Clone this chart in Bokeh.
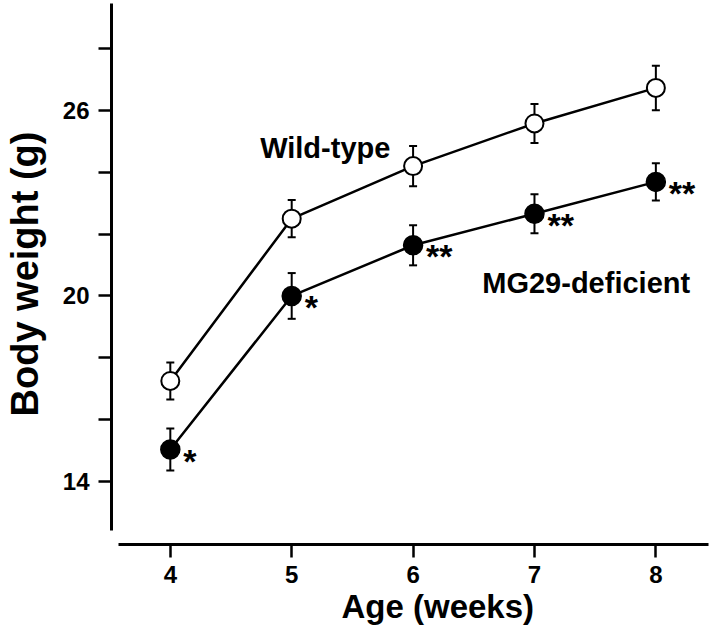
from bokeh.plotting import figure
from bokeh.models import Range1d, FixedTicker, ColumnDataSource, Title
from bokeh.core.properties import value
from bokeh.embed import file_html
from bokeh.resources import INLINE

# ---- data ----
weeks = [4, 5, 6, 7, 8]
wild_type = [17.25, 22.50, 24.20, 25.58, 26.73]
wild_err = [0.60, 0.60, 0.65, 0.63, 0.72]
mg29 = [15.03, 20.00, 21.64, 22.66, 23.69]
mg29_err = [0.68, 0.74, 0.65, 0.63, 0.60]
mg29_sig = ["*", "*", "**", "**", "**"]
y_ticks = [14, 16, 18, 20, 22, 24, 26, 28]
y_tick_labels = {14: "14", 20: "20", 26: "26"}
x_ticks = [4, 5, 6, 7, 8]
series_labels = ["Wild-type", "MG29-deficient"]
label_pos_x = [4.74, 6.57]
label_pos_y = [24.79, 20.42]

FONT = "Liberation Sans"

p = figure(width=712, height=632, output_backend="svg", toolbar_location=None,
           x_range=Range1d(3.5155, 8.4666), y_range=Range1d(11.96, 29.46),
           min_border_left=105, min_border_right=0, min_border_top=3,
           min_border_bottom=88)
p.outline_line_color = None
p.grid.visible = False
p.background_fill_color = "white"
p.border_fill_color = "white"

# axes
for ax in (p.xaxis[0], p.yaxis[0]):
    ax.axis_line_width = 3
    ax.major_tick_line_width = 2.5
    ax.major_tick_out = 13
    ax.major_tick_in = 0
    ax.minor_tick_line_color = None
    ax.major_label_text_font = FONT
    ax.major_label_text_font_style = "bold"
    ax.major_label_text_color = "black"
    ax.axis_label_text_font = FONT
    ax.axis_label_text_font_style = "bold"
    ax.axis_label_text_color = "black"
    ax.major_label_text_font_size = "24px"
    ax.axis_line_color = "black"
    ax.major_tick_line_color = "black"

p.xaxis.ticker = FixedTicker(ticks=x_ticks)
p.xaxis.bounds = (3.57, 8.43)
p.xaxis.major_label_standoff = 8

# x-axis title (placed right of centre, as in the reference)
p.add_layout(Title(text="Age (weeks)", align="left", offset=230, standoff=0,
                   text_font=FONT, text_font_size="33px", text_font_style="bold",
                   text_color="black"), "below")

p.yaxis.ticker = FixedTicker(ticks=y_ticks)
p.yaxis.major_label_overrides = {t: y_tick_labels.get(t, "") for t in y_ticks}
p.yaxis.bounds = (12.4, 29.46)
p.yaxis.axis_label = "Body weight (g)"
p.yaxis.axis_label_text_font_size = "38px"
p.yaxis.major_label_standoff = 9
p.yaxis.axis_label_standoff = 14

src = ColumnDataSource(dict(
    x=weeks, wt=wild_type,
    wt_lo=[v - e for v, e in zip(wild_type, wild_err)],
    wt_hi=[v + e for v, e in zip(wild_type, wild_err)],
    mg=mg29,
    mg_lo=[v - e for v, e in zip(mg29, mg29_err)],
    mg_hi=[v + e for v, e in zip(mg29, mg29_err)],
    sig=mg29_sig,
))

# error bars
for lo, hi in (("wt_lo", "wt_hi"), ("mg_lo", "mg_hi")):
    p.segment(x0="x", y0=lo, x1="x", y1=hi, source=src, line_color="black", line_width=2)
    p.scatter(x="x", y=lo, source=src, marker="dash", size=8, line_color="black", line_width=2)
    p.scatter(x="x", y=hi, source=src, marker="dash", size=8, line_color="black", line_width=2)

# lines
p.line(x="x", y="wt", source=src, line_color="black", line_width=2.5)
p.line(x="x", y="mg", source=src, line_color="black", line_width=2.5)

# markers
p.scatter(x="x", y="wt", source=src, marker="circle", size=18,
          fill_color="white", line_color="black", line_width=2)
p.scatter(x="x", y="mg", source=src, marker="circle", size=19,
          fill_color="black", line_color="black", line_width=1.5)

# significance stars
p.text(x="x", y="mg", text="sig", source=src, x_offset=13, y_offset=11,
       text_font=value(FONT), text_font_style="bold", text_font_size="34px",
       text_color="black", text_align="left", text_baseline="alphabetic")

# series labels
p.text(x=label_pos_x, y=label_pos_y, text=series_labels,
       text_font=value(FONT), text_font_style="bold", text_font_size="29px",
       text_color="black", text_align="left", text_baseline="alphabetic")

open("out.html", "w").write(file_html(p, INLINE))
